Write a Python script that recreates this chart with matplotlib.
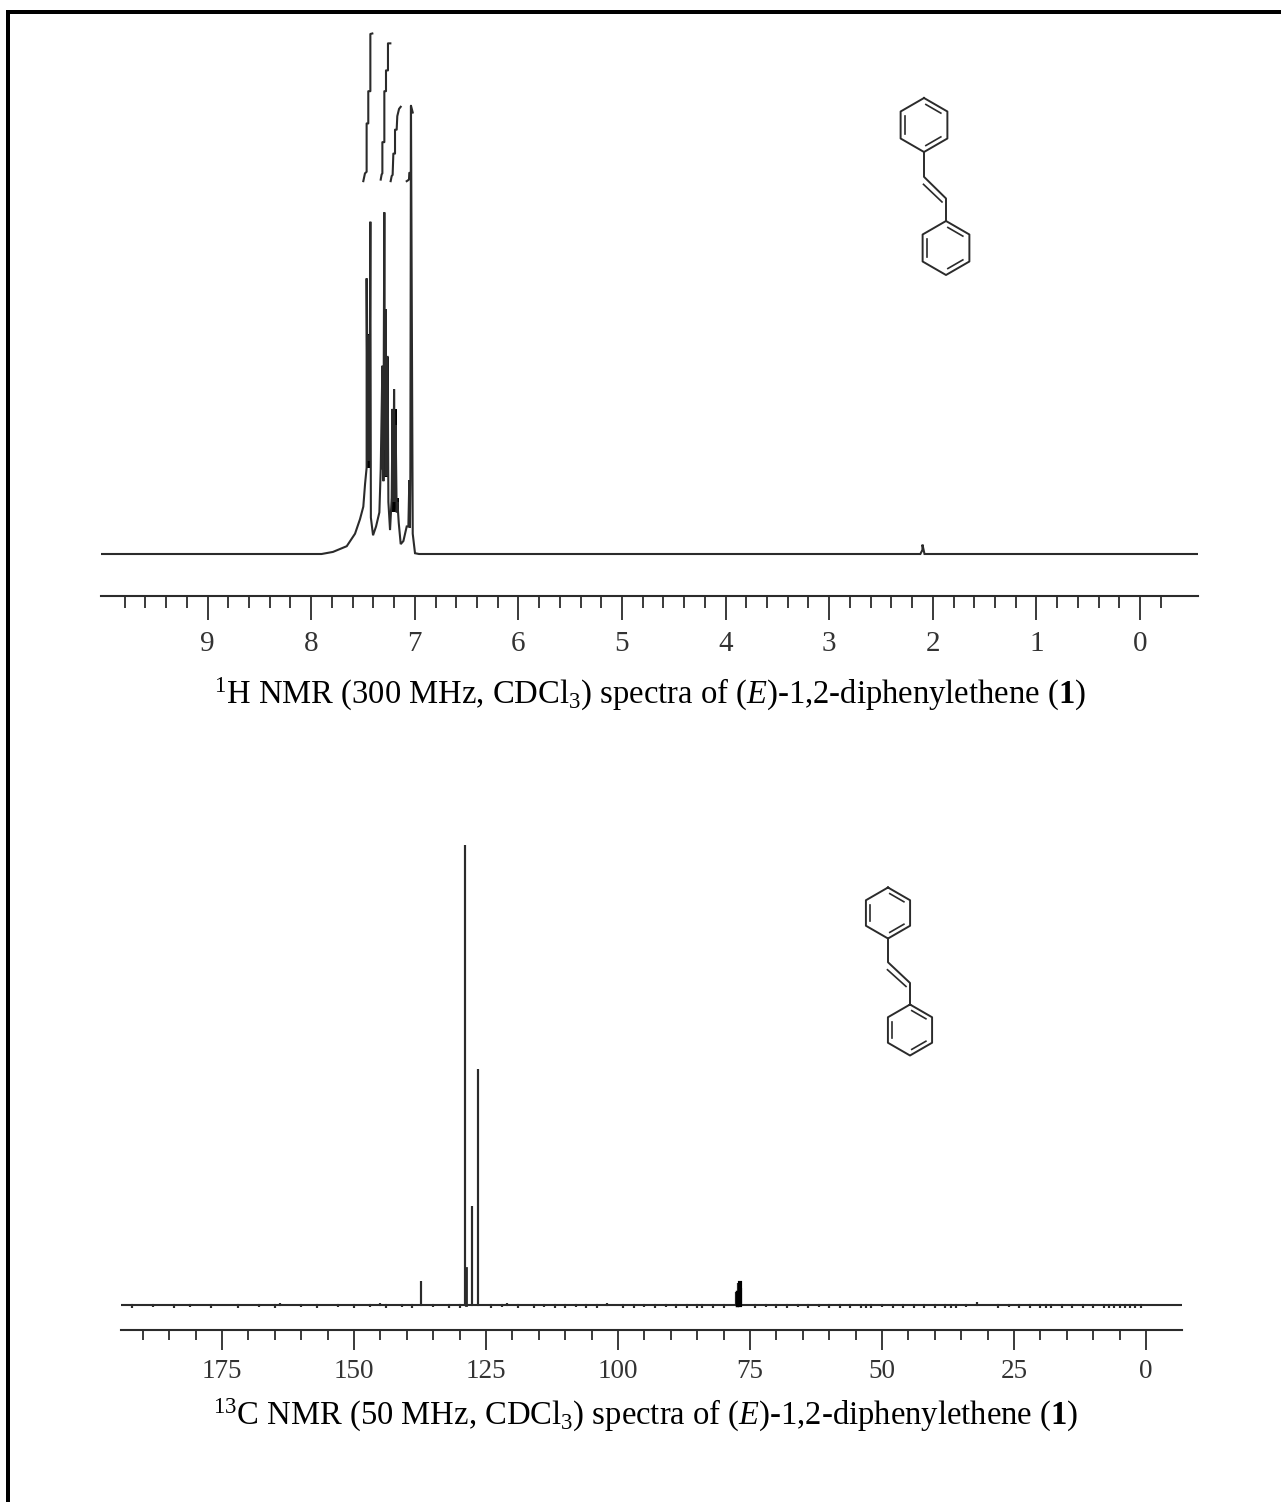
import numpy as np
import matplotlib
matplotlib.use('Agg')
import matplotlib.pyplot as plt

plt.rcParams['font.family'] = ['Liberation Serif', 'DejaVu Serif']
plt.rcParams['mathtext.fontset'] = 'custom'
plt.rcParams['mathtext.rm'] = 'Liberation Serif'
plt.rcParams['mathtext.it'] = 'Liberation Serif:italic'
plt.rcParams['mathtext.bf'] = 'Liberation Serif:bold'

W, H = 1281, 1502
LINE = '#2b2b2b'

# 1H spectrum, ppm / relative height
h_ppm = [10.03, 7.90, 7.79, 7.657, 7.577, 7.529, 7.497, 7.48, 7.465, 7.465, 7.455, 7.452, 7.447, 7.443, 7.438, 7.429,
         7.424, 7.403, 7.374, 7.342, 7.329, 7.313, 7.31, 7.306, 7.303, 7.299, 7.294, 7.288, 7.281, 7.276, 7.27, 7.262,
         7.255, 7.239, 7.223, 7.215, 7.207, 7.2, 7.191, 7.185, 7.175, 7.168, 7.155, 7.136, 7.11, 7.078, 7.062,
         7.053, 7.047, 7.043, 7.037, 7.02, 6.998, 6.96, 2.12, 2.10, 2.10, 2.08, -0.56]
h_val = [0, 0, 0.4, 1.5, 3.9, 6.7, 9.1, 13.5, 16.6, 53, 18, 42, 18, 42, 18, 63.9,
         7, 3.6, 5.3, 8, 16.3, 36.2, 16.3, 34, 14, 40, 65.7, 20, 47.1, 15, 37.9, 37.9,
         10, 4.6, 10.8, 27.9, 10, 31.7, 10, 24.8, 8, 10, 6, 1.9, 2.5, 5.3, 5.3,
         14.2, 5, 14, 86.2, 3.9, 0.15, 0, 0, 0.8, 1.8, 0, 0]
h_gaps = [9.08, 9.02, 8.925, 4.62, 3.87, 3.66, 3.47, 3.02, 2.86, 2.62]

# parts of the multiplets that print as solid black: ppm from, ppm to, low, high
solid_from = [7.465, 7.313, 7.294, 7.278, 7.214, 7.223, 7.056]
solid_to = [7.423, 7.249, 7.271, 7.249, 7.175, 7.149, 7.037]
solid_low = [16.6, 14.9, 14.9, 14.9, 10.8, 8, 5.3]
solid_high = [42.3, 36.2, 47.1, 37.9, 27.9, 10.8, 14.2]

# integral curves over the 1H multiplets
int1_ppm = [7.497, 7.481, 7.465, 7.465, 7.449, 7.449, 7.429, 7.429, 7.41]
int1_val = [71.7, 73.2, 73.5, 82.8, 82.8, 89, 89, 100, 100.1]
int2_ppm = [7.329, 7.32, 7.313, 7.313, 7.294, 7.294, 7.278, 7.278, 7.259, 7.259, 7.236]
int2_val = [72, 73, 73.2, 79.2, 79.2, 89, 89, 93, 93, 98.2, 98.2]
int3_ppm = [7.233, 7.223, 7.214, 7.207, 7.191, 7.191, 7.175, 7.169, 7.152, 7.136]
int3_val = [71.7, 72.7, 72.9, 77, 77, 81.6, 81.6, 84.2, 85.6, 86]
int4_ppm = [7.078, 7.056, 7.053, 7.037, 7.037, 7.02]
int4_val = [71.7, 72, 73.3, 73.3, 86.2, 84.9]

h_major = [9, 8, 7, 6, 5, 4, 3, 2, 1, 0]
h_minor = [x / 10 for x in range(-2, 100, 2) if x % 10 != 0]

# 13C spectrum, sticks
c_ppm = [137.3, 128.9, 128.7, 127.6, 126.6, 77.6, 77.2, 76.7]
c_val = [5.2, 100, 8, 21.5, 51.3, 2.8, 4.8, 3.7]
c_noise_ppm = [192, 188, 184, 181, 177, 172, 168, 165, 164, 160, 157, 153, 150, 147, 145, 144, 141, 139, 135, 132,
               130, 124, 122, 121, 119, 116, 114, 112, 110, 108, 106, 104, 102, 99, 97, 95, 93, 91, 89, 87, 85, 84,
               82, 80, 74, 72, 70, 68, 66, 64, 62, 60, 58, 56, 54, 53, 52, 50, 48, 46, 44, 42, 40, 38, 37, 36, 34,
               32, 28, 26, 24, 22, 20, 19, 18, 16, 14, 12, 10, 8, 7, 6, 5, 4, 3, 2, 1]
c_noise_val = [-0.6, -0.5, -0.6, -0.5, -0.6, -0.6, -0.5, -0.6, 0.4, -0.5, -0.6, -0.5, -0.6, -0.5, 0.4, -0.6, -0.5,
               -0.6, -0.5, -0.6, -0.6, -0.6, -0.5, 0.4, -0.6, -0.6, -0.5, -0.6, -0.6, -0.5, -0.6, -0.6, 0.5, -0.6,
               -0.6, -0.5, -0.6, -0.5, -0.6, -0.6, -0.7, -0.6, -0.6, -0.6, -0.6, -0.5, -0.6, -0.6, -0.5, -0.6, -0.5,
               -0.6, -0.6, -0.7, -0.7, -0.7, -0.7, -0.5, -0.6, -0.6, -0.7, -0.7, -0.6, -0.6, -0.7, -0.6, -0.5, 0.6,
               -0.6, -0.5, -0.6, -0.7, -0.6, -0.7, -0.6, -0.6, -0.7, -0.6, -0.6, -0.7, -0.6, -0.6, -0.7, -0.6, -0.6,
               -0.7, -0.6]
c_major = [175, 150, 125, 100, 75, 50, 25, 0]
c_minor = [x for x in range(5, 195, 5) if x % 25 != 0]

cap_1h = r"$^{1}$H NMR (300 MHz, CDCl$_{3}$) spectra of ($\mathit{E}$)-1,2-diphenylethene ($\mathbf{1}$)"
cap_13c = r"$^{13}$C NMR (50 MHz, CDCl$_{3}$) spectra of ($\mathit{E}$)-1,2-diphenylethene ($\mathbf{1}$)"


def hacerEje(fig, izq, der, arriba, abajo, xlim, ylim):
	ax = fig.add_axes([izq / W, 1 - abajo / H, (der - izq) / W, (abajo - arriba) / H])
	ax.set_xlim(*xlim)
	ax.set_ylim(*ylim)
	ax.patch.set_alpha(0)
	for lado in ['left', 'right', 'top']:
		ax.spines[lado].set_visible(False)
	ax.spines['bottom'].set_linewidth(1.5)
	ax.spines['bottom'].set_color(LINE)
	ax.set_yticks([])
	return ax


def anillo(ax, cx, cy, r):
	ang = np.radians([90, 30, -30, -90, -150, 150])
	xs = cx + r * np.cos(ang)
	ys = cy - r * np.sin(ang)
	ax.plot(np.append(xs, xs[0]), np.append(ys, ys[0]), color=LINE, lw=1.4)
	# dobles enlaces interiores
	for i in [0, 2, 4]:
		j = (i + 1) % 6
		xa, ya = cx + 0.8 * (xs[i] - cx), cy + 0.8 * (ys[i] - cy)
		xb, yb = cx + 0.8 * (xs[j] - cx), cy + 0.8 * (ys[j] - cy)
		xa, xb = xa + 0.1 * (xb - xa), xb - 0.1 * (xb - xa)
		ya, yb = ya + 0.1 * (yb - ya), yb - 0.1 * (yb - ya)
		ax.plot([xa, xb], [ya, yb], color=LINE, lw=1.2)


def estilbeno(ax, x1, y1, x2, y2, r):
	anillo(ax, x1, y1, r)
	anillo(ax, x2, y2, r)
	ya = y1 + r
	yb = y2 - r
	paso = (yb - ya) / 3
	ax.plot([x1, x1, x2, x2], [ya, ya + paso * 1.08, yb - paso * 0.98, yb], color=LINE, lw=1.4)
	ax.plot([x1 - 0.5, x2 - 4], [ya + paso * 1.08 + 7.5, yb - paso * 0.98 + 3.5], color=LINE, lw=1.2)


fig = plt.figure(figsize=(W / 100, H / 100), dpi=100, facecolor='white')

# 1H
ax1 = hacerEje(fig, 101, 1198, 25, 596, ((1140 - 101) / 103.6, (1140 - 1198) / 103.6), (-42 / 5.2, 529 / 5.2))
px, py = list(h_ppm), list(h_val)
for g in h_gaps:
	i = next(k for k in range(len(px)) if px[k] < g)
	px[i:i] = [g, np.nan, g - 0.02]
	py[i:i] = [py[i - 1], np.nan, py[i]]
ax1.plot(px, py, color=LINE, lw=1.5, solid_joinstyle='miter')
for a, b, lo, hi in zip(solid_from, solid_to, solid_low, solid_high):
	ax1.fill_between([a, b], lo, hi, color='black', lw=0)
for xs, ys in [(int1_ppm, int1_val), (int2_ppm, int2_val), (int3_ppm, int3_val), (int4_ppm, int4_val)]:
	ax1.plot(xs, ys, color=LINE, lw=1.5)
ax1.set_xticks(h_major)
ax1.set_xticklabels([str(v) for v in h_major], fontsize=21, color='#333333')
ax1.set_xticks(h_minor, minor=True)
ax1.tick_params(axis='x', which='major', length=17, width=1.3, color=LINE, pad=8)
ax1.tick_params(axis='x', which='minor', length=8.5, width=1.3, color=LINE)

# 13C
ax2 = hacerEje(fig, 121, 1182, 835, 1330, ((1146 - 121) / 5.28, (1146 - 1182) / 5.28), (-25 / 4.6, 470 / 4.6))
todos = sorted(list(zip(c_ppm, c_val)) + list(zip(c_noise_ppm, c_noise_val)), reverse=True)
sx, sy = [(1146 - 121) / 5.28], [0]
for p, v in todos:
	sx += [p, p, p]
	sy += [0, v, 0]
sx.append((1146 - 1182) / 5.28)
sy.append(0)
ax2.plot(sx, sy, color=LINE, lw=1.5, solid_joinstyle='miter')
ax2.plot([128.75, 128.75], [0, 8], color=LINE, lw=2.0)
ax2.plot([77.45, 77.45], [0, 2.8], color='black', lw=2.5)
ax2.plot([76.9, 76.9], [0, 4.8], color='black', lw=3.0)
ax2.set_xticks(c_major)
ax2.set_xticklabels([str(v) for v in c_major], fontsize=19.5, color='#333333')
ax2.set_xticks(c_minor, minor=True)
ax2.tick_params(axis='x', which='major', length=14.5, width=1.3, color=LINE, pad=6.5)
ax2.tick_params(axis='x', which='minor', length=7, width=1.3, color=LINE)

# capa en pixeles para marco, estructuras y pies
ax0 = fig.add_axes([0, 0, 1, 1])
ax0.set_xlim(0, W)
ax0.set_ylim(H, 0)
ax0.axis('off')
ax0.patch.set_alpha(0)
ax0.fill_between([6, W], 10, 14, color='black', lw=0)
ax0.fill_between([6, 10], 10, H, color='black', lw=0)
estilbeno(ax0, 924, 125, 946, 248, 27)
estilbeno(ax0, 888, 913, 910, 1030, 25.5)
ax0.text(650, 694, cap_1h, ha='center', va='center', fontsize=23.5, color='black')
ax0.text(646, 1415, cap_13c, ha='center', va='center', fontsize=23.5, color='black')

fig.savefig('out.png', dpi=100)
